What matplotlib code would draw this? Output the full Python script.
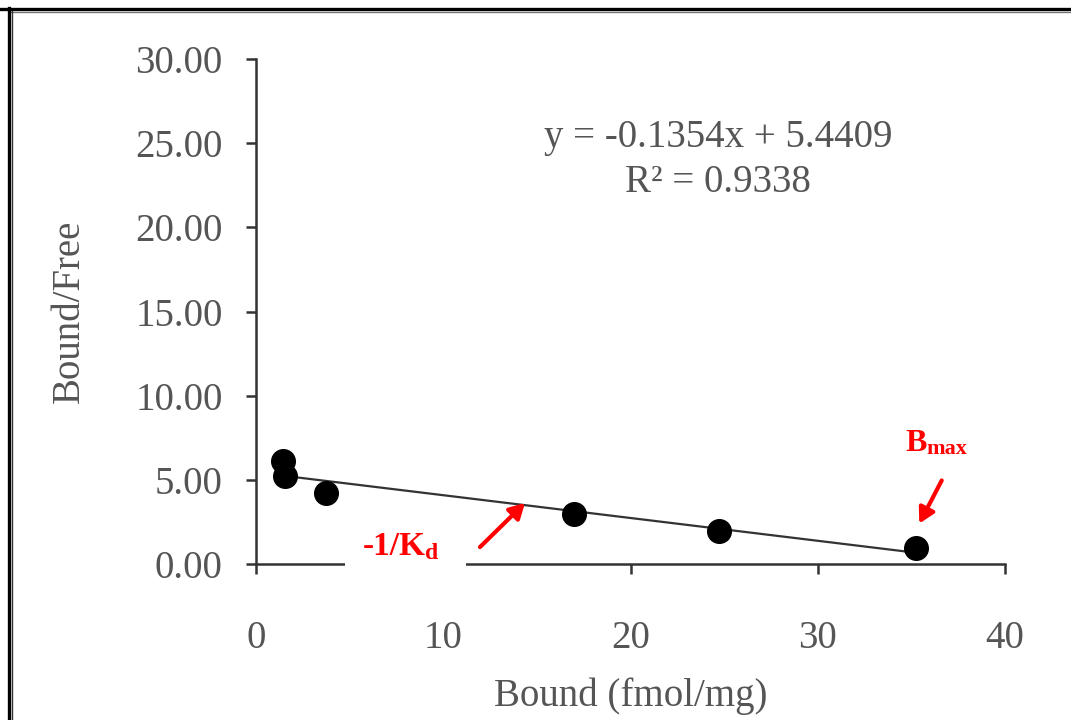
import matplotlib
matplotlib.use("Agg")
import matplotlib.pyplot as plt
from matplotlib.lines import Line2D
from matplotlib.patches import Rectangle, FancyArrowPatch
import numpy as np

# Data
bound = [1.45, 1.55, 3.75, 17.0, 24.7, 35.25]
bound_free = [6.1, 5.2, 4.2, 3.0, 1.95, 0.95]
slope = -0.1354
intercept = 5.4409
r2 = 0.9338
xticks = [0, 10, 20, 30, 40]
yticks = [0, 5, 10, 15, 20, 25, 30]

W, H = 1071, 720
fig = plt.figure(figsize=(W / 100, H / 100), dpi=100)
fig.patch.set_facecolor("white")

def fx(px):
    return px / W

def fy(py):
    return 1 - py / H

ax = fig.add_axes([fx(256), fy(564), fx(1005) - fx(256), fy(59) - fy(564)])
ax.set_xlim(0, 40)
ax.set_ylim(0, 30)
for s in ("top", "right"):
    ax.spines[s].set_visible(False)
for s in ("left", "bottom"):
    ax.spines[s].set_color("#333333")
    ax.spines[s].set_linewidth(1.8)

serif = ["Liberation Serif", "DejaVu Serif"]
gray = "#555555"
fs = 28

ax.set_xticks(xticks)
ax.set_yticks(yticks)
ax.set_xticklabels([str(v) for v in xticks], family=serif, fontsize=fs, color=gray)
ax.set_yticklabels(["%.2f" % v for v in yticks], family=serif, fontsize=fs, color=gray)
ax.tick_params(axis="x", direction="out", length=7, width=1.8, color="#333333", pad=33)
ax.tick_params(axis="y", direction="out", length=7, width=1.8, color="#333333", pad=17)

ax.set_xlabel("Bound (fmol/mg)", family=serif, fontsize=fs, color=gray, labelpad=15)
ax.set_ylabel("Bound/Free", family=serif, fontsize=fs, color=gray, labelpad=34)

# regression line
xl = np.array([min(bound), max(bound)])
ax.plot(xl, slope * xl + intercept, color="#333333", lw=1.6, zorder=2)
ax.scatter(bound, bound_free, s=17 ** 2, color="black", zorder=3, clip_on=False)

ax.text(fx(718), fy(137), "y = %.4fx + %.4f" % (slope, intercept), transform=fig.transFigure,
        ha="center", va="center", family=serif, fontsize=fs, color=gray)
ax.text(fx(718), fy(182), "R\u00b2 = %.4f" % r2, transform=fig.transFigure,
        ha="center", va="center", family=serif, fontsize=fs, color=gray)

# white box covering part of axis
fig.patches.append(Rectangle((fx(345), fy(577)), fx(466) - fx(345), fy(500) - fy(577),
                             transform=fig.transFigure, facecolor="white",
                             edgecolor="none", zorder=5))

red = "#ff0000"
fig.text(fx(363), fy(555), "-1/K", family=serif, weight="bold", fontsize=24,
         color=red, ha="left", va="baseline", zorder=6)
fig.text(fx(425), fy(559), "d", family=serif, weight="bold", fontsize=17,
         color=red, ha="left", va="baseline", zorder=6)
fig.text(fx(905), fy(451), "B", family=serif, weight="bold", fontsize=23,
         color=red, ha="left", va="baseline", zorder=6)
fig.text(fx(926), fy(454), "max", family=serif, weight="bold", fontsize=16,
         color=red, ha="left", va="baseline", zorder=6)

for (x0, y0), (x1, y1) in [((478, 549), (527, 501)), ((943, 478), (918, 526))]:
    arr = FancyArrowPatch((fx(x0), fy(y0)), (fx(x1), fy(y1)), transform=fig.transFigure,
                          arrowstyle="-|>,head_length=9,head_width=5", color=red,
                          lw=3, mutation_scale=1, zorder=6)
    fig.patches.append(arr)

# frame
fig.lines.append(Line2D([0, 1], [fy(8.5), fy(8.5)], transform=fig.transFigure,
                        color="black", lw=2.4))
fig.lines.append(Line2D([fx(11), 1], [fy(11.5), fy(11.5)], transform=fig.transFigure,
                        color="#777777", lw=1.0))
fig.lines.append(Line2D([fx(8.5), fx(8.5)], [0, fy(7.5)], transform=fig.transFigure,
                        color="black", lw=2.4))
fig.lines.append(Line2D([fx(11.8), fx(11.8)], [0, fy(11)], transform=fig.transFigure,
                        color="#333333", lw=1.0))

fig.savefig("out.png", dpi=100, facecolor="white")
